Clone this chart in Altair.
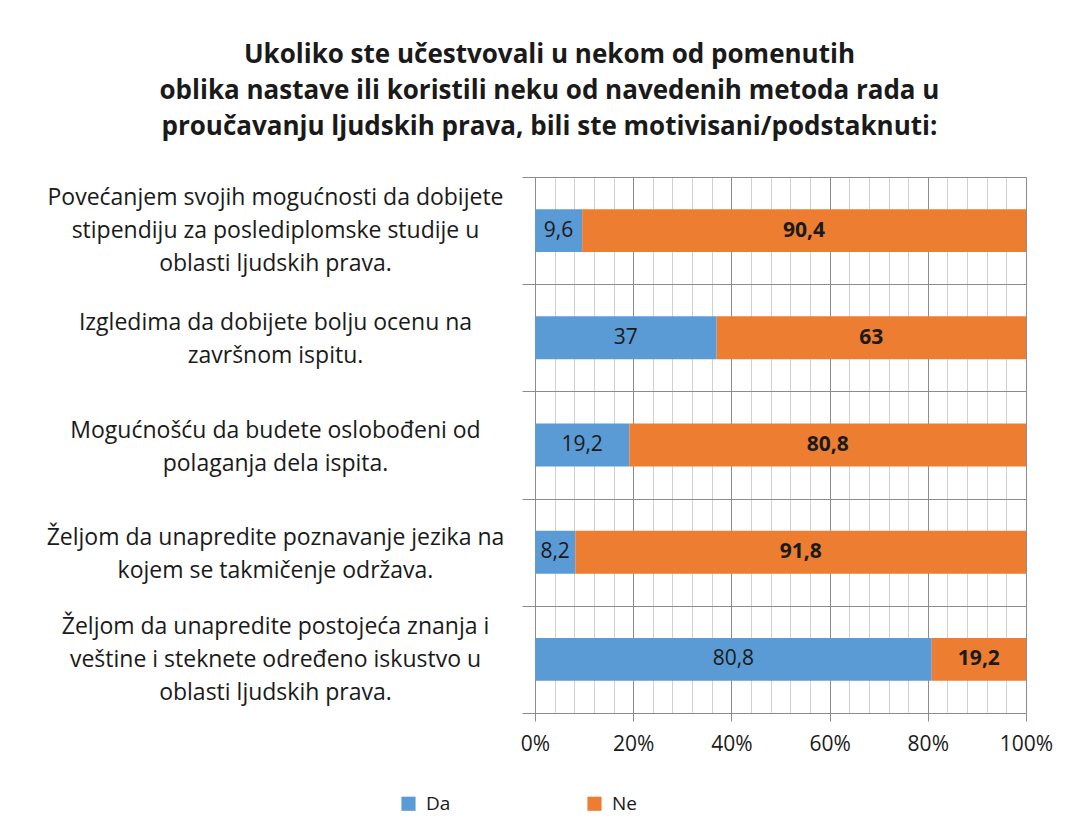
import altair as alt
import pandas as pd

categories = [
    "Povećanjem svojih mogućnosti da dobijete\nstipendiju za poslediplomske studije u\noblasti ljudskih prava.",
    "Izgledima da dobijete bolju ocenu na\nzavršnom ispitu.",
    "Mogućnošću da budete oslobođeni od\npolaganja dela ispita.",
    "Željom da unapredite poznavanje jezika na\nkojem se takmičenje održava.",
    "Željom da unapredite postojeća znanja i\nveštine i steknete određeno iskustvo u\noblasti ljudskih prava.",
]
series = ["Da", "Ne"]
da_values = [9.6, 37, 19.2, 8.2, 80.8]
ne_values = [90.4, 63, 80.8, 91.8, 19.2]
title_lines = [
    "Ukoliko ste učestvovali u nekom od pomenutih",
    "oblika nastave ili koristili neku od navedenih metoda rada u",
    "proučavanju ljudskih prava, bili ste motivisani/podstaknuti:",
]
colors = ["#5B9BD5", "#ED7D31"]

rows = []
for c, d, n in zip(categories, da_values, ne_values):
    for order, (s, v) in enumerate(zip(series, [d, n])):
        rows.append({"cat": c, "series": s, "value": v, "order": order,
                     "label": f"{v:g}".replace(".", ",")})
df = pd.DataFrame(rows)

FONT = "Open Sans"

base = alt.Chart(df).transform_stack(
    stack="value", groupby=["cat"], as_=["x0", "x1"],
    sort=[alt.SortField("order", order="ascending")]
).transform_calculate(mid="(datum.x0 + datum.x1) / 2")

y_scale = alt.Scale(paddingInner=0, paddingOuter=0)
y_axis = alt.Axis(
    labelExpr="split(datum.label, '\\n')",
    labelFont=FONT, labelFontSize=23, labelColor="#1a1a1a",
    labelAlign="center", labelPadding=247, labelLineHeight=33,
    labelLimit=700,
    labelOffset={"condition": {"test": "length(split(datum.label, '\\n')) === 3", "value": -33},
                 "value": -15},
    tickBand="extent", tickSize=13, tickColor="#8c8c8c",
    domainColor="#8c8c8c", grid=True, gridColor="#8c8c8c",
)
y = alt.Y("cat:N", sort=categories, title=None, scale=y_scale, axis=y_axis)

x_scale = alt.Scale(domain=[0, 100], nice=False)
x_axis = alt.Axis(
    values=list(range(0, 101, 4)),
    labelExpr="datum.value % 20 === 0 ? datum.value + '%' : ''",
    labelFont=FONT, labelFontSize=21, labelColor="#1a1a1a", labelPadding=12,
    labelOverlap=False, labelFlush=False,
    tickSize=8,
    tickColor={"condition": {"test": "datum.value % 20 === 0", "value": "#8c8c8c"}, "value": "transparent"},
    gridColor={"condition": {"test": "datum.value % 20 === 0", "value": "#8c8c8c"}, "value": "#d0d0d0"},
    domainColor="#8c8c8c", title=None,
)

bars = base.mark_bar(height=alt.RelativeBandSize(0.4)).encode(
    x=alt.X("x0:Q", scale=x_scale, axis=x_axis),
    x2="x1:Q",
    y=y,
    color=alt.Color(
        "series:N", scale=alt.Scale(domain=series, range=colors),
        legend=alt.Legend(
            orient="none", legendX=-136, legendY=617, direction="horizontal",
            title=None, symbolType="square", symbolSize=200, symbolStrokeWidth=0,
            labelFont=FONT, labelFontSize=19, labelColor="#1a1a1a",
            columnPadding=134, labelOffset=8,
        ),
    ),
)

text_da = base.transform_filter("datum.series === 'Da'").mark_text(
    font=FONT, fontSize=21, color="#1a1a1a"
).encode(
    x=alt.X("mid:Q", scale=x_scale, axis=x_axis),
    y=y,
    text="label:N",
)

text_ne = base.transform_filter("datum.series === 'Ne'").mark_text(
    font=FONT, fontSize=21, fontWeight="bold", color="#1a1a1a"
).encode(
    x=alt.X("mid:Q", scale=x_scale, axis=x_axis),
    y=y,
    text="label:N",
)

chart = alt.layer(bars, text_da, text_ne).properties(
    width=491, height=536,
    title=alt.TitleParams(
        text=title_lines, font=FONT, fontSize=26, fontWeight="bold",
        color="#1a1a1a", anchor="middle", frame="bounds", offset=26,
        lineHeight=36,
    ),
    padding={"top": 34, "left": 38, "right": 10, "bottom": 10},
).configure_view(stroke=None).configure(background="white")

chart.save("out.html", embed_options={"renderer": "svg", "actions": False})
